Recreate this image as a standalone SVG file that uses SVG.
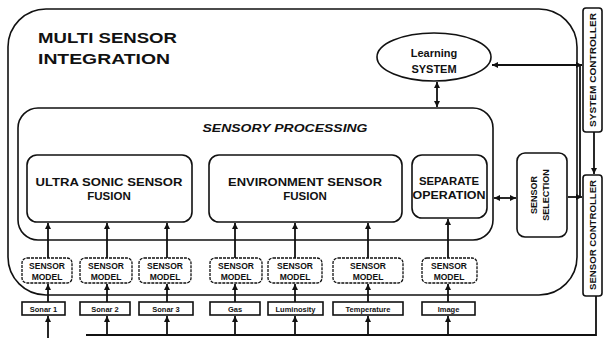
<svg xmlns="http://www.w3.org/2000/svg" width="607" height="338" viewBox="0 0 607 338">
<style>
.box{fill:#fff;stroke:#111;stroke-width:1.6}
.sm{fill:#fff;stroke:#111;stroke-width:1.3;stroke-dasharray:3 1}
.ln{fill:none;stroke:#111;stroke-width:1.8}
.t{font-family:"Liberation Sans",Arial,sans-serif;font-weight:bold;fill:#111;text-anchor:middle}
.h{font-size:11.5px;font-style:italic}
.f{font-size:11.5px}
.s{font-size:7.5px}
.m{font-size:8.5px}
</style>
<defs>
<marker id="ar" viewBox="0 0 6 6" refX="6" refY="3" markerUnits="userSpaceOnUse" markerWidth="7" markerHeight="6" orient="auto-start-reverse">
<path d="M0,0 L6,3 L0,6 z" fill="#111"/>
</marker>
</defs>
<rect width="607" height="338" fill="#fff"/>

<g id="msi">
<rect class="box" x="8" y="9" width="569" height="286" rx="38" ry="38"/>
<text class="t" x="38" y="43" font-size="15.5" textLength="139" lengthAdjust="spacingAndGlyphs" style="text-anchor:start">MULTI SENSOR</text>
<text class="t" x="38" y="64" font-size="15.5" textLength="132" lengthAdjust="spacingAndGlyphs" style="text-anchor:start">INTEGRATION</text>
</g>

<g id="learning">
<ellipse class="box" cx="434" cy="57" rx="57" ry="24"/>
<text class="t" x="434" y="57" font-size="11">Learning</text>
<text class="t" x="434" y="73" font-size="11">SYSTEM</text>
</g>

<g id="sp">
<rect class="box" x="18" y="108" width="475" height="132" rx="20" ry="20"/>
<text class="t h" x="285" y="132" textLength="165" lengthAdjust="spacingAndGlyphs">SENSORY PROCESSING</text>
</g>

<g id="usf">
<rect class="box" x="27" y="155" width="165" height="67" rx="10" ry="10"/>
<text class="t f" x="109" y="186" textLength="147" lengthAdjust="spacingAndGlyphs">ULTRA SONIC SENSOR</text>
<text class="t f" x="109" y="200">FUSION</text>
</g>

<g id="esf">
<rect class="box" x="209" y="155" width="193" height="67" rx="10" ry="10"/>
<text class="t f" x="305" y="186" textLength="154" lengthAdjust="spacingAndGlyphs">ENVIRONMENT SENSOR</text>
<text class="t f" x="305" y="200">FUSION</text>
</g>

<g id="sep">
<rect class="box" x="412" y="155" width="75" height="63" rx="10" ry="10"/>
<text class="t f" x="449" y="185" textLength="60" lengthAdjust="spacingAndGlyphs">SEPARATE</text>
<text class="t f" x="449" y="199" textLength="73" lengthAdjust="spacingAndGlyphs">OPERATION</text>
</g>

<g id="sel">
<rect class="box" x="517" y="153" width="50" height="84" rx="8" ry="8"/>
<text class="t" font-size="9" transform="translate(537,195) rotate(-90)">SENSOR</text>
<text class="t" font-size="9" transform="translate(549,195) rotate(-90)">SELECTION</text>
</g>

<g id="sysctl">
<rect class="box" x="583" y="8" width="19" height="124" rx="3" ry="3"/>
<text class="t" font-size="8.5" transform="translate(595.5,70) rotate(-90)" textLength="114" lengthAdjust="spacingAndGlyphs">SYSTEM CONTROLLER</text>
</g>

<g id="senctl">
<rect class="box" x="583" y="175" width="19" height="121" rx="3" ry="3"/>
<text class="t" font-size="8.5" transform="translate(595.5,235) rotate(-90)" textLength="110" lengthAdjust="spacingAndGlyphs">SENSOR CONTROLLER</text>
</g>

<g id="sm1"><rect class="sm" x="22" y="258" width="50" height="25" rx="5"/><text class="t m" x="47" y="268.5">SENSOR</text><text class="t m" x="47" y="279.5">MODEL</text></g>
<g id="sm2"><rect class="sm" x="80" y="258" width="52" height="25" rx="5"/><text class="t m" x="106" y="268.5">SENSOR</text><text class="t m" x="106" y="279.5">MODEL</text></g>
<g id="sm3"><rect class="sm" x="139" y="258" width="52" height="25" rx="5"/><text class="t m" x="165" y="268.5">SENSOR</text><text class="t m" x="165" y="279.5">MODEL</text></g>
<g id="sm4"><rect class="sm" x="210" y="258" width="52" height="25" rx="5"/><text class="t m" x="236" y="268.5">SENSOR</text><text class="t m" x="236" y="279.5">MODEL</text></g>
<g id="sm5"><rect class="sm" x="268" y="258" width="54" height="25" rx="5"/><text class="t m" x="295" y="268.5">SENSOR</text><text class="t m" x="295" y="279.5">MODEL</text></g>
<g id="sm6"><rect class="sm" x="333" y="258" width="70" height="25" rx="5"/><text class="t m" x="368" y="268.5">SENSOR</text><text class="t m" x="368" y="279.5">MODEL</text></g>
<g id="sm7"><rect class="sm" x="422" y="258" width="55" height="25" rx="5"/><text class="t m" x="449" y="268.5">SENSOR</text><text class="t m" x="449" y="279.5">MODEL</text></g>

<g id="s1"><rect class="box" x="22" y="302" width="43" height="13"/><text class="t s" x="43.5" y="311.5">Sonar 1</text></g>
<g id="s2"><rect class="box" x="80" y="302" width="50" height="13"/><text class="t s" x="105" y="311.5">Sonar 2</text></g>
<g id="s3"><rect class="box" x="139" y="302" width="54" height="13"/><text class="t s" x="166" y="311.5">Sonar 3</text></g>
<g id="s4"><rect class="box" x="210" y="302" width="50" height="13"/><text class="t s" x="235" y="311.5">Gas</text></g>
<g id="s5"><rect class="box" x="268" y="302" width="55" height="13"/><text class="t s" x="295.5" y="311.5">Luminosity</text></g>
<g id="s6"><rect class="box" x="333" y="302" width="70" height="13"/><text class="t s" x="368" y="311.5">Temperature</text></g>
<g id="s7"><rect class="box" x="422" y="302" width="53" height="13"/><text class="t s" x="448.5" y="311.5">Image</text></g>

<g id="connectors">
<path class="ln" d="M48,302 V284" marker-end="url(#ar)"/>
<path class="ln" d="M107,302 V284" marker-end="url(#ar)"/>
<path class="ln" d="M167,302 V284" marker-end="url(#ar)"/>
<path class="ln" d="M235,302 V284" marker-end="url(#ar)"/>
<path class="ln" d="M295,302 V284" marker-end="url(#ar)"/>
<path class="ln" d="M368,302 V284" marker-end="url(#ar)"/>
<path class="ln" d="M448,302 V284" marker-end="url(#ar)"/>

<path class="ln" d="M48,258 V223" marker-end="url(#ar)"/>
<path class="ln" d="M107,258 V223" marker-end="url(#ar)"/>
<path class="ln" d="M167,258 V223" marker-end="url(#ar)"/>
<path class="ln" d="M235,258 V223" marker-end="url(#ar)"/>
<path class="ln" d="M295,258 V223" marker-end="url(#ar)"/>
<path class="ln" d="M368,258 V223" marker-end="url(#ar)"/>
<path class="ln" d="M448,258 V219" marker-end="url(#ar)"/>

<path class="ln" d="M48,338 V316" marker-end="url(#ar)"/>
<path class="ln" d="M107,335 V316" marker-end="url(#ar)"/>
<path class="ln" d="M167,335 V316" marker-end="url(#ar)"/>
<path class="ln" d="M235,335 V316" marker-end="url(#ar)"/>
<path class="ln" d="M295,335 V316" marker-end="url(#ar)"/>
<path class="ln" d="M368,335 V316" marker-end="url(#ar)"/>
<path class="ln" d="M448,335 V316" marker-end="url(#ar)"/>
<path class="ln" d="M86,335 H596 V296"/>

<path class="ln" d="M437,82 V107" marker-start="url(#ar)" marker-end="url(#ar)"/>
<path class="ln" d="M492,65 H582" marker-start="url(#ar)" marker-end="url(#ar)"/>
<path class="ln" d="M580,65 V197"/>
<path class="ln" d="M594,132 V174" marker-end="url(#ar)"/>
<path class="ln" d="M494,198 H516" marker-start="url(#ar)" marker-end="url(#ar)"/>
<path class="ln" d="M568,197 H582" marker-end="url(#ar)"/>
</g>
</svg>
